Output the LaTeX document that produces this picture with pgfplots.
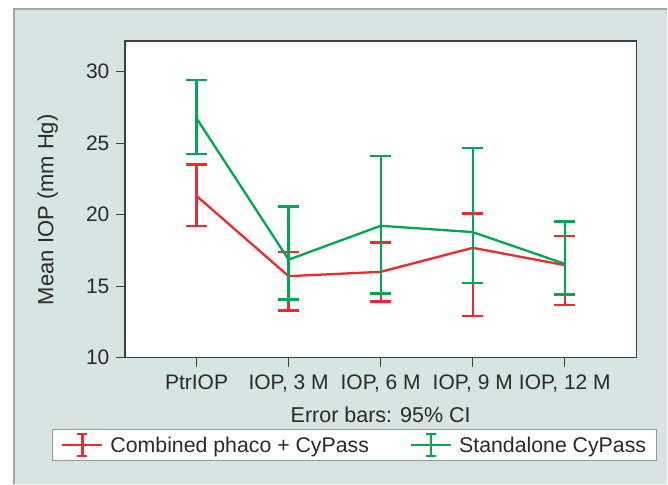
\documentclass[border=0pt]{standalone}
\usepackage{pgfplots}
\pgfplotsset{compat=1.18}
\usepackage{pgfplotstable}
\usepackage{fontspec}
\setmainfont{Liberation Sans}
\definecolor{panel}{HTML}{D6E5E2}
\definecolor{cred}{HTML}{EE2A2E}
\definecolor{cgreen}{HTML}{00A651}
\definecolor{txt}{HTML}{2A2A2A}
\pgfplotstableread{
x  m      ep    em
0  21.31  2.19  2.11
1  15.70  1.70  2.40
2  16.00  2.05  2.07
3  17.68  2.40  4.75
4  16.47  2.03  2.79
}\redtab
\pgfplotstableread{
x  m      ep    em
0  26.74  2.67  2.52
1  16.85  3.72  2.78
2  19.22  4.88  4.73
3  18.78  5.86  3.58
4  16.56  2.96  2.14
}\greentab
\begin{document}
\begin{tikzpicture}[x=1pt,y=1pt]
\fill[white] (0,0) rectangle (668,-484);
\fill[panel] (14,-9) rectangle (668,-484);
\draw[black!35, line width=1.2pt] (14,-484) -- (14,-9) -- (668,-9);
\begin{axis}[
  at={(125pt,-358pt)}, anchor=south west,
  scale only axis, width=512pt, height=317pt,
  xmin=-0.778, xmax=4.778, ymin=10, ymax=32.14,
  xtick={0,1,2,3,4},
  xticklabels={PtrIOP, {IOP, 3 M}, {IOP, 6 M}, {IOP, 9 M}, {IOP, 12 M}},
  ytick={10,15,20,25,30},
  tick align=outside, tick pos=left, major tick length=9pt,
  axis line style={draw=black!75, line width=1.3pt},
  tick style={draw=black!75, line width=1.1pt},
  axis background/.style={fill=white},
  ticklabel style={font=\fontsize{21}{25}\selectfont, text=txt},
  xticklabel style={yshift=-5pt},
  yticklabel style={xshift=-3pt},
  /pgf/number format/assume math mode=true,
  label style={font=\fontsize{21.5}{25}\selectfont, text=txt},
  ylabel={Mean IOP (mm Hg)},
  ylabel style={at={(axis description cs:-0.151,0.467)}, anchor=center, font=\fontsize{22}{26}\selectfont},
  xlabel={Error bars: 95\% CI},
  xlabel style={at={(axis description cs:0.5,-0.181)}, anchor=center},
  legend columns=2,
  legend style={at={(axis description cs:-0.142,-0.2249)}, anchor=north west,
    draw=black!40, fill=white, line width=1pt,
    font=\fontsize{21.3}{25}\selectfont, text=txt,
    inner xsep=8.5pt, inner ysep=3.5pt,
    /tikz/every odd column/.append style={column sep=5pt},
    /tikz/every even column/.append style={column sep=39pt}},
]
\addplot[cred, line width=2.3pt,
  legend image code/.code={
    \draw[cred, line width=2.3pt] (0pt,0pt) -- (40pt,0pt);
    \draw[cred, line width=2.3pt] (20pt,-11pt) -- (20pt,11pt);
    \draw[cred, line width=2.3pt] (15pt,-11pt) -- (25pt,-11pt);
    \draw[cred, line width=2.3pt] (15pt,11pt) -- (25pt,11pt);},
  error bars/.cd, y dir=both, y explicit,
  error bar style={line width=2.3pt, cred},
  error mark options={cred, line width=2.3pt, mark size=10.5pt, rotate=90}]
  table[x=x, y=m, y error plus=ep, y error minus=em] {\redtab};
\addlegendentry{Combined phaco + CyPass}
\addplot[cgreen, line width=2.3pt,
  legend image code/.code={
    \draw[cgreen, line width=2.3pt] (0pt,0pt) -- (40pt,0pt);
    \draw[cgreen, line width=2.3pt] (20pt,-11pt) -- (20pt,11pt);
    \draw[cgreen, line width=2.3pt] (15pt,-11pt) -- (25pt,-11pt);
    \draw[cgreen, line width=2.3pt] (15pt,11pt) -- (25pt,11pt);},
  error bars/.cd, y dir=both, y explicit,
  error bar style={line width=2.3pt, cgreen},
  error mark options={cgreen, line width=2.3pt, mark size=10.5pt, rotate=90}]
  table[x=x, y=m, y error plus=ep, y error minus=em] {\greentab};
\addlegendentry{Standalone CyPass}
\end{axis}
\end{tikzpicture}
\end{document}
